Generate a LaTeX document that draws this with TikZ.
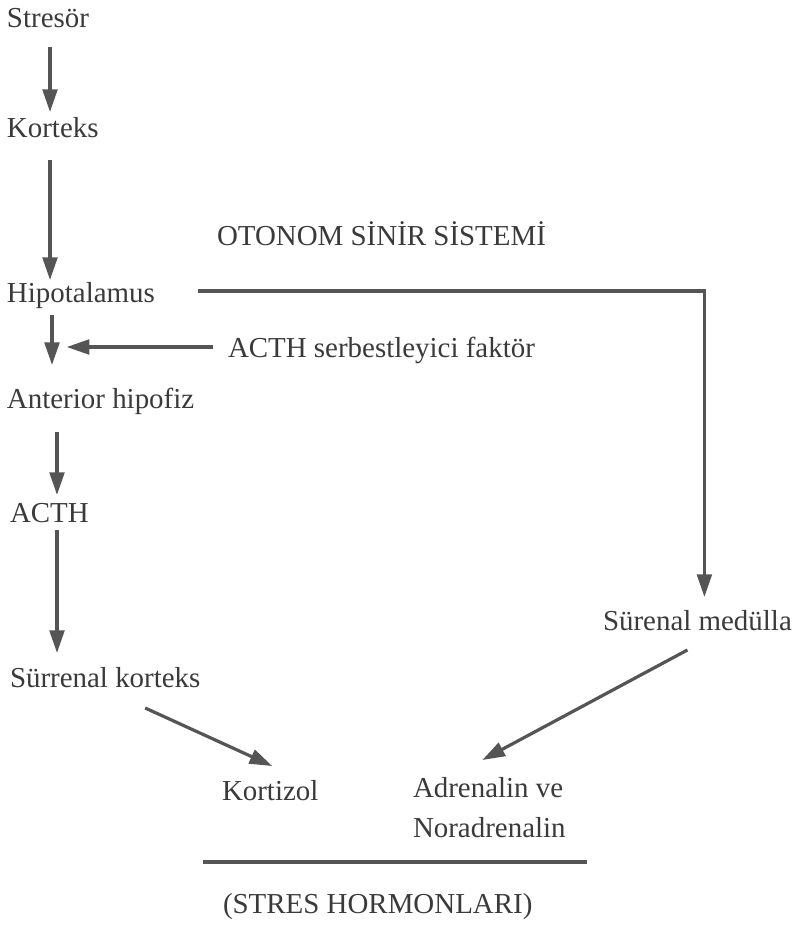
\documentclass[tikz,border=0pt]{standalone}
\usepackage{fontspec}
\setmainfont{Liberation Serif}
\usetikzlibrary{arrows.meta}
\definecolor{ink}{HTML}{3A3A3A}
\definecolor{wire}{HTML}{555555}
\tikzstyle{word} = [inner sep=0pt, outer sep=0pt, text=ink, font=\fontsize{21.7pt}{30pt}\selectfont]
\tikzstyle{term} = [word, anchor=base west, text height=15pt, text depth=4.5pt]
\tikzstyle{flow} = [-{Triangle[length=17pt, width=11pt]}, line width=2.4pt, draw=wire]
\tikzstyle{rule} = [line width=2.4pt, draw=wire]

\begin{document}
\begin{tikzpicture}[x=0.75pt, y=-0.75pt]
    \fill [white] (0,0) rectangle (800,925);

    % Axis of the stress response.
    \node (stresor) [term] at (7,27) {Stresör};
    \node (korteks) [term] at (7,137) {Korteks};
    \node (hipo) [term] at (7,302) {Hipotalamus};
    \node (anterior) [term] at (7,408) {Anterior hipofiz};
    \node (acth) [term] at (10,522) {ACTH};
    \node (surrenal) [term] at (10,687) {Sürrenal korteks};

    % Side branch.
    \node (otonom) [term] at (217,245) {OTONOM SİNİR SİSTEMİ};
    \node (acthrf) [term] at (228,357) {ACTH serbestleyici faktör};
    \node (medulla) [term] at (603,630) {Sürenal medülla};

    % Hormones.
    \node (kortizol) [term] at (222,800) {Kortizol};
    \node (adrenalin) [word, anchor=north west, align=left] at (413,777) {Adrenalin ve\\Noradrenalin};
    \node (stres) [term] at (223,913) {(STRES HORMONLARI)};

    \coordinate (joint) at (52,347);
    \coordinate (ruleL) at (203,862);
    \coordinate (ruleR) at (587,862);

    % Arrows.
    \foreach \a/\b/\x/\s/\e in {stresor/korteks/50/10.5/3.75, korteks/hipo/50/12.75/1.5,
        hipo/anterior/52/5.25/17.25, anterior/acth/57/13.5/5.25, acth/surrenal/57/1.5/10.5} {
        \draw [flow, shorten <=\s pt, shorten >=\e pt] (\a.south -| \x,0) -- (\b.north -| \x,0);
    }

    \draw [flow, shorten <=11.25pt, shorten >=11pt] (acthrf.west |- joint) -- (joint);
    \draw [flow] ([shift={(43,-4)}]hipo.east) -| ([shift={(7,-13)}]medulla.north);
    \draw [flow] ([shift={(40,15)}]surrenal.south) -- ([shift={(2,-14)}]kortizol.north);
    \draw [flow] ([shift={(-10,14)}]medulla.south) -- ([shift={(-7,-17)}]adrenalin.north);

    \draw [rule] (ruleL) -- (ruleR);
\end{tikzpicture}
\end{document}
